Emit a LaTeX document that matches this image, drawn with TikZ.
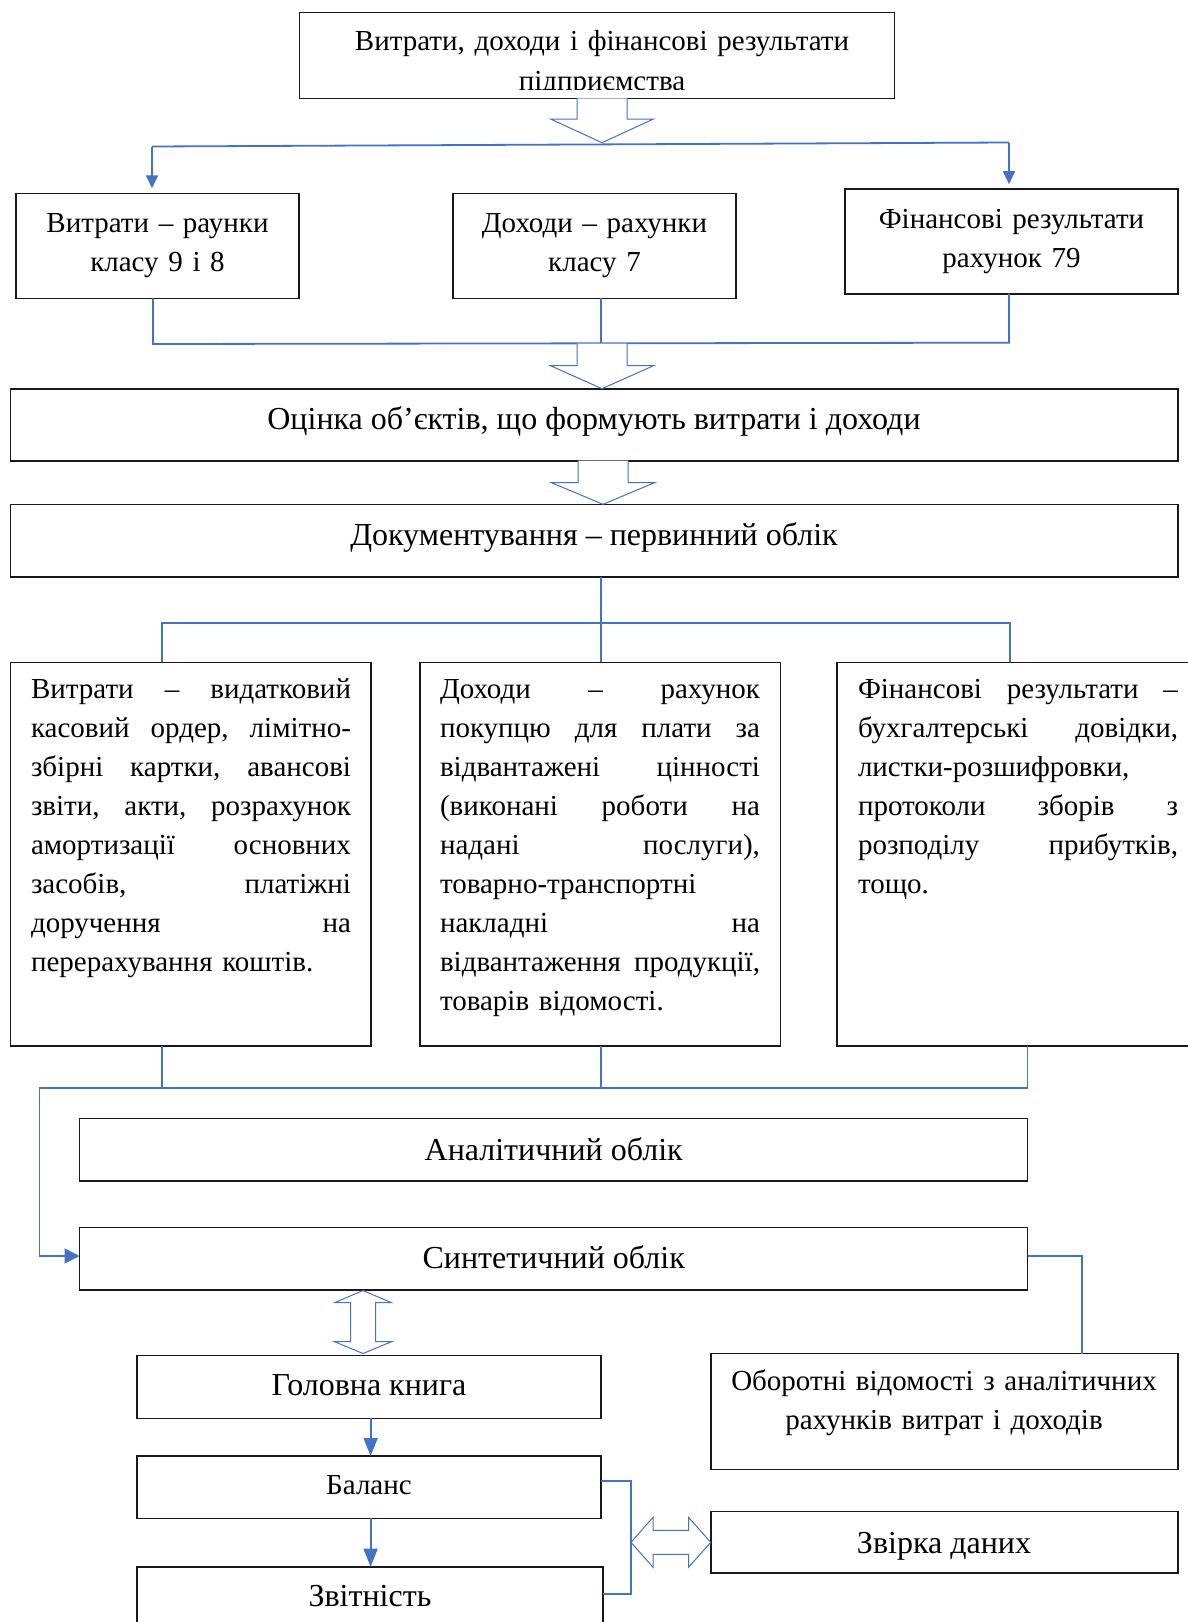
\documentclass[tikz,border=0pt]{standalone}
\usepackage{fontspec}
\setmainfont{Liberation Serif}
\usetikzlibrary{arrows.meta,calc}

\definecolor{lineblue}{RGB}{68,114,196}
\definecolor{framegray}{RGB}{25,25,25}

% text sizes: ordinary and larger captions
\newcommand\txtA{\fontsize{29}{39}\selectfont}
\newcommand\txtB{\fontsize{32}{39}\selectfont}
% one justified line of a paragraph (words separated by \hfill)
\newcommand\jl[1]{\leavevmode\hbox to \linewidth{#1}}

% hollow block arrow pointing down: x, shaft top, head base, tip
\newcommand\hollowdown[4]{%
  \draw[hollow] (#1-25,#2) -- (#1-25,#3) -- (#1-51.5,#3) -- (#1,#4)
    -- (#1+51.5,#3) -- (#1+25,#3) -- (#1+25,#2);}

\tikzset{
  box/.style={draw=framegray, line width=1.6pt, fill=white, inner sep=0pt, outer sep=0pt},
  lbl/.style={inner sep=0pt, outer sep=0pt, anchor=base},
  blueln/.style={draw=lineblue, line width=1.8pt},
  hollow/.style={draw=lineblue, line width=1pt, fill=white, line join=miter},
  arrS/.style={-{Triangle[width=12pt,length=13pt]}},
  arrM/.style={-{Triangle[width=15pt,length=15pt]}},
  arrL/.style={-{Triangle[width=14pt,length=18pt]}},
}

\begin{document}
\begin{tikzpicture}[x=1pt,y=-1pt]
\clip (0,0) rectangle (1188,1622);
\fill[white] (0,0) rectangle (1188,1622);

% ---- boxes ----
\node[box, minimum width=594.7pt, minimum height=86pt]   (top) at (597,55.3) {};
\node[box, minimum width=283pt,   minimum height=105pt]  (A)   at (157.5,245.8) {};
\node[box, minimum width=283pt,   minimum height=105pt]  (B)   at (594.5,245.8) {};
\node[box, minimum width=333pt,   minimum height=104.5pt](C)   at (1011.5,241.45) {};
\node[box, minimum width=1167.4pt,minimum height=72pt]   (D)   at (594.3,424.7) {};
\node[box, minimum width=1167.4pt,minimum height=72.4pt] (E)   at (594.3,540.5) {};
\node[box, minimum width=360.6pt, minimum height=383.7pt](F)   at (190.9,854.15) {};
\node[box, minimum width=360.6pt, minimum height=383.7pt](G)   at (600,854.15) {};
\node[box, minimum width=360.6pt, minimum height=383.7pt](H)   at (1017.3,854.15) {};
\node[box, minimum width=948pt,   minimum height=62.5pt] (I)   at (553.5,1149.75) {};
\node[box, minimum width=948pt,   minimum height=62.5pt] (J)   at (553.5,1258.75) {};
\node[box, minimum width=464.2pt, minimum height=62.8pt] (K1)  at (368.9,1386.9) {};
\node[box, minimum width=464.2pt, minimum height=62.3pt] (K2)  at (368.9,1487.15) {};
\node[box, minimum width=466.2pt, minimum height=62.3pt] (K3)  at (369.9,1597.85) {};
\node[box, minimum width=466.7pt, minimum height=115.8pt](L1)  at (944.35,1411.4) {};
\node[box, minimum width=466.7pt, minimum height=61.5pt] (L2)  at (944.35,1542.25) {};

% ---- texts ----
\begin{scope}
  \clip (300,13) rectangle (894,89.5);
  \node[lbl, font=\txtA, text width=594pt, align=center] (tTop) at (602,50.5)
    {Витрати, доходи і фінансові результати\\[1pt]підприємства};
\end{scope}
\node[lbl, font=\txtA, text width=283pt, align=center] (tA) at (157.5,232.7)
  {Витрати – раунки\\класу 9 і 8};
\node[lbl, font=\txtA, text width=283pt, align=center] (tB) at (594.5,232.7)
  {Доходи – рахунки\\класу 7};
\node[lbl, font=\txtA, text width=333pt, align=center] (tC) at (1011.5,228.5)
  {Фінансові результати\\рахунок 79};
\node[lbl, font=\txtB] (tD) at (594,429.3) {Оцінка об’єктів, що формують витрати і доходи};
\node[lbl, font=\txtB] (tE) at (594,545) {Документування – первинний облік};

\node[lbl, font=\txtA, text width=320pt, align=left, anchor=base west] (tF) at (31,698)
  {\jl{Витрати\hfill–\hfill видатковий}\\
   \jl{касовий\hfill ордер,\hfill лімітно-}\\
   \jl{збірні\hfill картки,\hfill авансові}\\
   \jl{звіти,\hfill акти,\hfill розрахунок}\\
   \jl{амортизації\hfill основних}\\
   \jl{засобів,\hfill платіжні}\\
   \jl{доручення\hfill на}\\
   перерахування коштів.};
\node[lbl, font=\txtA, text width=320pt, align=left, anchor=base west] (tG) at (440,698)
  {\jl{Доходи\hfill–\hfill рахунок}\\
   \jl{покупцю\hfill для\hfill плати\hfill за}\\
   \jl{відвантажені\hfill цінності}\\
   \jl{(виконані\hfill роботи\hfill на}\\
   \jl{надані\hfill послуги),}\\
   товарно-транспортні\\
   \jl{накладні\hfill на}\\
   \jl{відвантаження\hfill продукції,}\\
   товарів відомості.};
\node[lbl, font=\txtA, text width=320pt, align=left, anchor=base west] (tH) at (858,698)
  {\jl{Фінансові\hfill результати\hfill –}\\
   \jl{бухгалтерські\hfill довідки,}\\
   листки-розшифровки,\\
   \jl{протоколи\hfill зборів\hfill з}\\
   \jl{розподілу\hfill прибутків,}\\
   тощо.};

\node[lbl, font=\txtB] (tI)  at (553.7,1160) {Аналітичний облік};
\node[lbl, font=\txtB] (tJ)  at (553.7,1268.5) {Синтетичний облік};
\node[lbl, font=\txtB] (tK1) at (369,1395.5)   {Головна книга};
\node[lbl, font=\txtA] (tK2) at (369,1494)     {Баланс};
\node[lbl, font=\txtB] (tK3) at (370,1606)     {Звітність};
\node[lbl, font=\txtA, text width=466pt, align=center] (tL1) at (944,1390.5)
  {Оборотні відомості з аналітичних\\рахунків витрат і доходів};
\node[lbl, font=\txtB] (tL2) at (944,1553.3)   {Звірка даних};

% ---- junction points ----
\coordinate (brL) at (152,146.5);
\coordinate (brR) at (1009,142.5);
\coordinate (jL)  at (153,344);
\coordinate (jB)  at (601,343.5);
\coordinate (jR)  at (1009,342.7);
\coordinate (eJ)  at (601,622.7);
\coordinate (eL)  at (162,622.7);
\coordinate (eR)  at (1010,622.7);
\coordinate (fJ)  at (162,1088);
\coordinate (gJ)  at (601,1088);
\coordinate (hJ)  at (1027.5,1088);
\coordinate (lJ)  at (39.4,1088);
\coordinate (lS)  at (39.4,1256);
\coordinate (jr)  at (1082,1256);
\coordinate (kx)  at (370.6,0);
\coordinate (bT)  at (631,1481);
\coordinate (bB)  at (631,1594.3);

% ---- connectors ----
\draw[blueln] (brL) -- (brR);
\draw[blueln, arrS] (brL) -- ($(brL |- A.north)+(0,-5)$);
\draw[blueln, arrS] (brR) -- ($(brR |- C.north)+(0,-5)$);

\draw[blueln] (jL |- A.south) -- (jL) -- (jR) -- (jR |- C.south);
\draw[blueln] (jB |- B.south) -- (jB);

\draw[blueln] (eJ |- E.south) -- (eJ |- G.north);
\draw[blueln] (eL |- F.north) -- (eL) -- (eR) -- (eR |- H.north);

\draw[blueln] (fJ |- F.south) -- (fJ);
\draw[blueln] (gJ |- G.south) -- (gJ);
\draw[blueln] (hJ |- H.south) -- (hJ) -- (lJ) -- (lS);
\draw[blueln, arrM] (lS) -- (lS -| J.west);

\draw[blueln] (jr -| J.east) -- (jr) -- (jr |- L1.north);

\draw[blueln, arrL] (kx |- K1.south) -- (kx |- K2.north);
\draw[blueln, arrL] (kx |- K2.south) -- (kx |- K3.north);

\draw[blueln] (bT -| K2.east) -- (bT) -- (bB) -- (bB -| K3.east);

% ---- hollow block arrows ----
\hollowdown{602}{98.3}{119}{142.7}
\hollowdown{602}{343.5}{365.7}{388.7}
\hollowdown{603}{460.7}{482.7}{504.3}

\draw[hollow] (363,1290.5) -- (391.5,1302.7) -- (375.5,1302.7) -- (375.5,1341.7)
  -- (391.5,1341.7) -- (363,1353.5) -- (334.5,1341.7) -- (350.5,1341.7)
  -- (350.5,1302.7) -- (334.5,1302.7) -- cycle;

\draw[hollow] (631,1542.3) -- (653,1517.3) -- (653,1530.3) -- (688.5,1530.3)
  -- (688.5,1517.3) -- (710.7,1542.3) -- (688.5,1567.3) -- (688.5,1554.3)
  -- (653,1554.3) -- (653,1567.3) -- cycle;
\end{tikzpicture}
\end{document}
